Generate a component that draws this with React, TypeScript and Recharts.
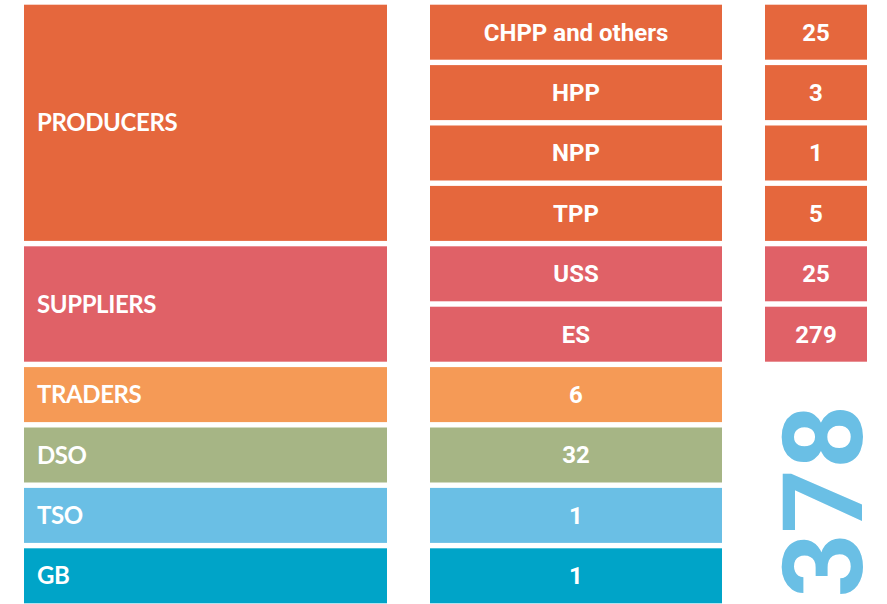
import { BarChart, Bar, XAxis, YAxis } from 'recharts';

// row labels (middle column), owner group (left column) and counts
const rowNames = ['CHPP and others', 'HPP', 'NPP', 'TPP', 'USS', 'ES', 'TRADERS', 'DSO', 'TSO', 'GB'];
const rowGroups = ['PRODUCERS', 'PRODUCERS', 'PRODUCERS', 'PRODUCERS', 'SUPPLIERS', 'SUPPLIERS', 'TRADERS', 'DSO', 'TSO', 'GB'];
const rowCounts = [25, 3, 1, 5, 25, 279, 6, 32, 1, 1];

const groupColors: Record<string, string> = {
  PRODUCERS: '#E5673D',
  SUPPLIERS: '#E06167',
  TRADERS: '#F59A56',
  DSO: '#A6B585',
  TSO: '#6ABFE5',
  GB: '#00A4C8',
};

const data = rowNames.map((name, i) => ({
  name,
  group: rowGroups[i],
  count: rowCounts[i],
}));

const total = rowCounts.reduce((a, b) => a + b, 0);

const W = 887;
const H = 606;
const MARGIN_TOP = 2;
const GAP = 2.7;
const ROW_GAP = GAP * 2;

const groupSize = (g: string) => rowGroups.filter((x) => x === g).length;
const isFirstInGroup = (i: number) => i === 0 || rowGroups[i - 1] !== rowGroups[i];

const LeftCell = (props: any) => {
  const { x, y, width, height, index } = props;
  const g = rowGroups[index];
  const n = groupSize(g);
  if (!isFirstInGroup(index)) return <g />;
  const h = n * (height + ROW_GAP) - ROW_GAP;
  return (
    <g>
      <rect x={x} y={y} width={width} height={h} fill={groupColors[g]} />
      <text
        x={x + 13}
        y={y + h / 2}
        dy="0.36em"
        fill="#fff"
        fontFamily="Lato, sans-serif"
        fontWeight={700}
        fontSize={24}
        letterSpacing={-0.4}
      >
        {g}
      </text>
    </g>
  );
};

const MiddleCell = (props: any) => {
  const { x, y, width, height, index } = props;
  const g = rowGroups[index];
  const label = groupSize(g) > 1 ? rowNames[index] : String(rowCounts[index]);
  return (
    <g>
      <rect x={x} y={y} width={width} height={height} fill={groupColors[g]} />
      <text
        x={x + width / 2}
        y={y + height / 2}
        dy="0.35em"
        textAnchor="middle"
        fill="#fff"
        fontFamily="Roboto, sans-serif"
        fontWeight={700}
        fontSize={24}
      >
        {label}
      </text>
    </g>
  );
};

const RightCell = (props: any) => {
  const { x, y, width, height, index } = props;
  const g = rowGroups[index];
  if (groupSize(g) > 1) {
    return (
      <g>
        <rect x={x} y={y} width={width} height={height} fill={groupColors[g]} />
        <text
          x={x + width / 2}
          y={y + height / 2}
          dy="0.35em"
          textAnchor="middle"
          fill="#fff"
          fontFamily="Roboto, sans-serif"
          fontWeight={700}
          fontSize={24}
        >
          {rowCounts[index]}
        </text>
      </g>
    );
  }
  // the grand total sits once, beside the single-row groups
  if (index !== rowGroups.findIndex((r) => groupSize(r) === 1)) return <g />;
  const rest = rowGroups.length - index;
  const cy = y + (rest * (height + ROW_GAP) - ROW_GAP) / 2 + 16;
  const bx = x + width - 5;
  return (
    <text
      transform={`translate(${bx}, ${cy}) rotate(-90)`}
      textAnchor="middle"
      fill="#6ABFE5"
      fontFamily="Roboto, sans-serif"
      fontWeight={700}
      fontSize={112}
    >
      {total}
    </text>
  );
};

export default function App() {
  return (
    <div style={{ position: 'absolute', left: 0, top: 0, width: W, height: 604, overflow: 'hidden', background: '#fff' }}>
      <BarChart
        width={W}
        height={H}
        data={data}
        layout="vertical"
        margin={{ top: MARGIN_TOP, right: 0, bottom: 0, left: 0 }}
        barCategoryGap={GAP}
      >
        <XAxis type="number" domain={[0, W]} hide />
        <YAxis type="category" dataKey="name" hide />
        <Bar dataKey={() => 24} stackId="cols" fill="none" isAnimationActive={false} />
        <Bar dataKey={() => 363} stackId="cols" shape={LeftCell} isAnimationActive={false} />
        <Bar dataKey={() => 43} stackId="cols" fill="none" isAnimationActive={false} />
        <Bar dataKey={() => 292} stackId="cols" shape={MiddleCell} isAnimationActive={false} />
        <Bar dataKey={() => 43} stackId="cols" fill="none" isAnimationActive={false} />
        <Bar dataKey={() => 102} stackId="cols" shape={RightCell} isAnimationActive={false} />
      </BarChart>
    </div>
  );
}
